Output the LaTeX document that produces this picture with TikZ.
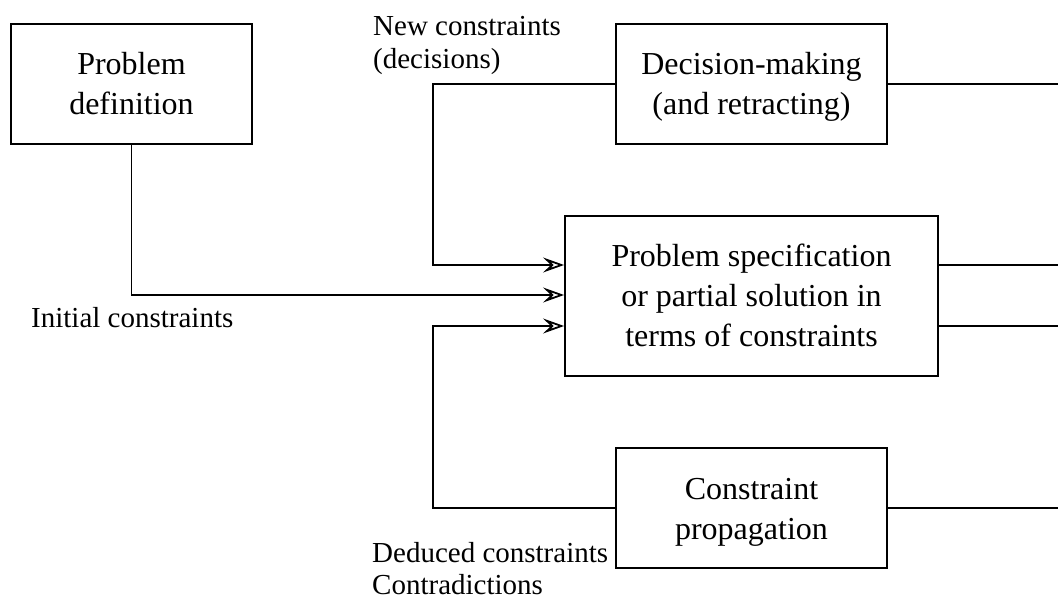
\documentclass[tikz,border=0pt]{standalone}
\usepackage{fontspec}
\setmainfont{Liberation Serif}
\usetikzlibrary{arrows.meta,calc}
\begin{document}
\begin{tikzpicture}[x=1pt,y=1pt,
  box/.style={draw,line width=1.9pt,rectangle,align=center,inner sep=0pt,
    text height=62pt,text depth=0pt,
    font=\fontsize{32}{40}\selectfont},
  lbl/.style={anchor=base west,align=left,inner sep=0pt,
    font=\fontsize{29}{33}\selectfont},
  conn/.style={line width=1.9pt},
  arr/.style={conn,-{Stealth[open,length=21pt,width=15pt,inset=8pt,line width=1.8pt]}}]
\useasboundingbox (0,0) rectangle (1058,603);
\node[box,minimum width=241pt,minimum height=120pt] (pd) at (131.5,519) {Problem\\definition};
\node[box,minimum width=271pt,minimum height=120pt] (dm) at (751.5,519) {Decision-making\\(and retracting)};
\node[box,minimum width=373pt,minimum height=160pt,text height=102pt] (ps) at (751.5,307) {Problem specification\\or partial solution in\\terms of constraints};
\node[box,minimum width=271pt,minimum height=120pt] (cp) at (751.5,95) {Constraint\\propagation};
\coordinate (c1) at (433,519);
\coordinate (c2) at (433,95);
\coordinate (r1) at (1058,519);
\coordinate (r2) at (1058,338);
\coordinate (r3) at (1058,277);
\coordinate (r4) at (1058,95);
\draw[arr] (dm.west) -- (c1) |- ([yshift=31pt]ps.west);
\draw[arr] (pd.south) |- ([yshift=1pt]ps.west);
\draw[arr] (cp.west) -- (c2) |- ([yshift=-30pt]ps.west);
\draw[conn] (dm.east) -- (r1);
\draw[conn] (ps.east |- r2) -- (r2);
\draw[conn] (ps.east |- r3) -- (r3);
\draw[conn] (cp.east) -- (r4);
\node[lbl] (l1) at (373,534) {New constraints\\(decisions)};
\node[lbl] (l2) at (31,275) {Initial constraints};
\node[lbl,font=\fontsize{29}{32}\selectfont] (l3) at (372,9) {Deduced constraints\\Contradictions};
\end{tikzpicture}
\end{document}
